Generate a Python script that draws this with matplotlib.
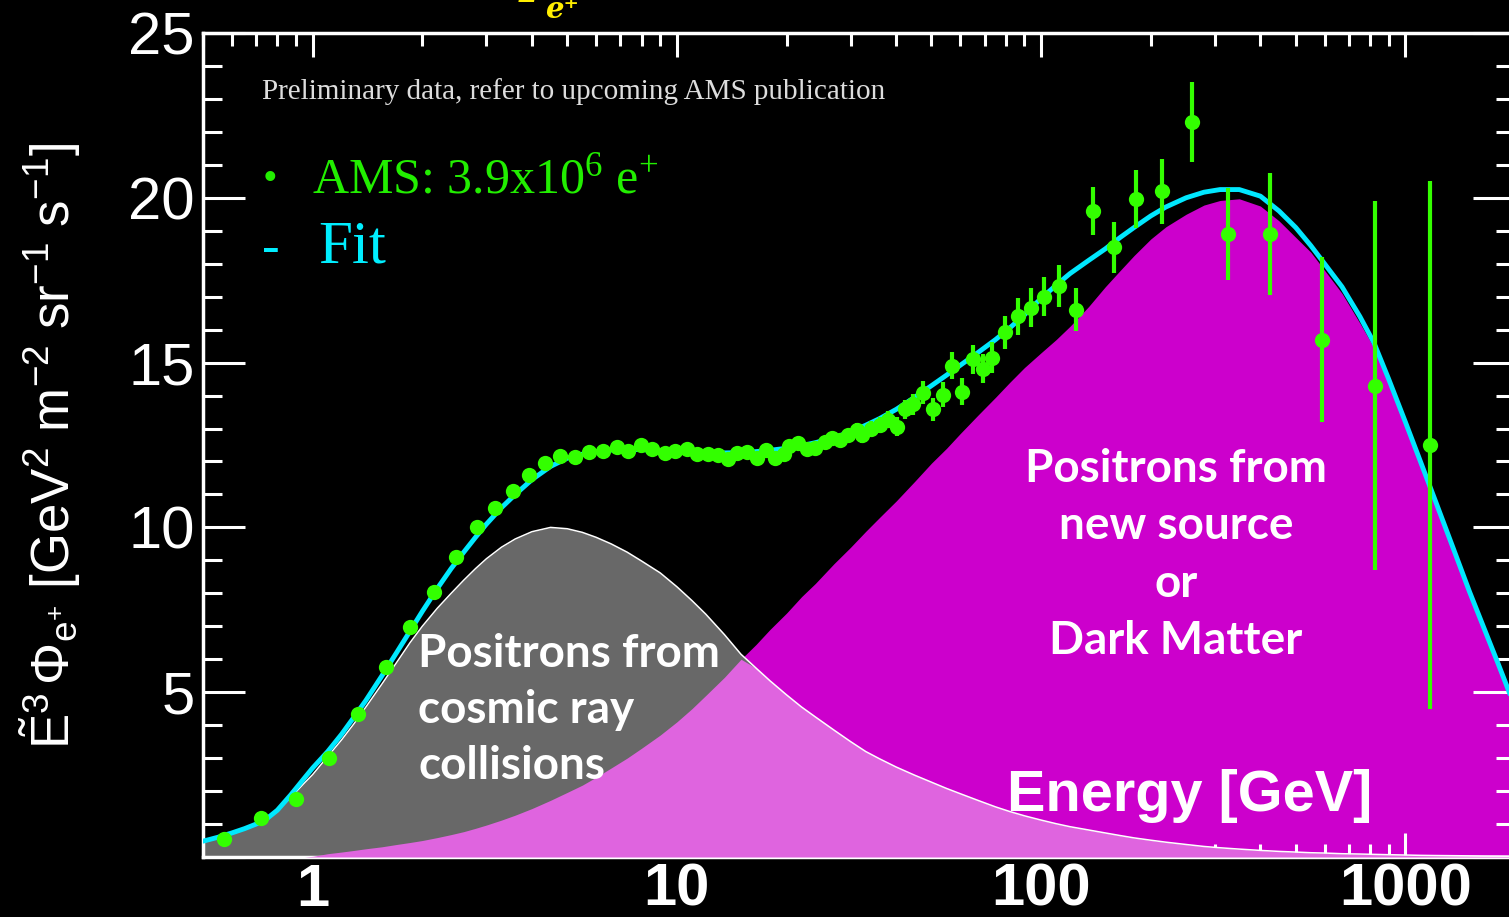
import numpy as np
import matplotlib
matplotlib.use("Agg")
import matplotlib.pyplot as plt
from matplotlib.ticker import FixedLocator, LogLocator, NullFormatter

plt.rcParams['font.family'] = ['Liberation Sans', 'DejaVu Sans']
plt.rcParams['mathtext.fontset'] = 'custom'
plt.rcParams['mathtext.rm'] = 'Liberation Sans'
plt.rcParams['mathtext.it'] = 'Liberation Sans:italic'
plt.rcParams['mathtext.default'] = 'regular'

# model curves (energy in GeV)
energy = [0.5, 0.55, 0.6, 0.65, 0.7, 0.75, 0.8, 0.87, 0.95, 1.0, 1.1, 1.2, 1.3, 1.4,
          1.55, 1.7, 1.85, 2.0, 2.2, 2.4, 2.6, 2.8, 3.0, 3.3, 3.6, 4.0, 4.5, 5.0,
          5.5, 6.0, 6.6, 7.3, 8.0, 9.0, 10, 11, 12, 13.5, 15, 16.5, 18, 20,
          22, 24, 27, 30, 33, 36, 40, 45, 50, 55, 60, 67, 75, 82,
          90, 100, 110, 120, 135, 150, 165, 180, 200, 220, 250, 280, 310, 350,
          400, 450, 500, 550, 600, 670, 750, 820, 900, 1000, 1100, 1200, 1350, 1500,
          1650, 1800, 2000]
collision = [0.45, 0.57, 0.7, 0.83, 0.97, 1.14, 1.4, 1.8, 2.25, 2.5, 3.05, 3.55, 4.05, 4.55,
             5.25, 5.9, 6.5, 7.0, 7.55, 8.0, 8.4, 8.75, 9.05, 9.4, 9.65, 9.87, 10.0, 9.96,
             9.85, 9.7, 9.5, 9.25, 8.98, 8.62, 8.2, 7.78, 7.37, 6.75, 6.15, 5.73, 5.35, 4.92,
             4.55, 4.25, 3.85, 3.5, 3.2, 2.98, 2.73, 2.48, 2.27, 2.08, 1.92, 1.72, 1.52, 1.38,
             1.25, 1.12, 1.01, 0.92, 0.82, 0.73, 0.65, 0.58, 0.51, 0.45, 0.38, 0.32, 0.28, 0.24,
             0.2, 0.17, 0.15, 0.13, 0.12, 0.1, 0.09, 0.08, 0.07, 0.06, 0.05, 0.045, 0.04, 0.035,
             0.03, 0.028, 0.025]
source = [0, 0, 0, 0, 0, 0, 0, 0, 0, 0.02, 0.1, 0.15, 0.2, 0.25,
          0.31, 0.38, 0.44, 0.5, 0.59, 0.68, 0.77, 0.87, 0.97, 1.12, 1.27, 1.47, 1.72, 1.96,
          2.18, 2.42, 2.7, 3.0, 3.3, 3.7, 4.1, 4.5, 4.9, 5.45, 6.0, 6.45, 6.9, 7.4,
          7.9, 8.3, 8.9, 9.4, 9.88, 10.3, 10.8, 11.4, 11.95, 12.4, 12.85, 13.4, 13.95, 14.4,
          14.85, 15.3, 15.7, 16.1, 16.7, 17.3, 17.8, 18.25, 18.75, 19.12, 19.5, 19.78, 19.92, 19.97,
          19.75, 19.3, 18.8, 18.35, 17.8, 17.1, 16.2, 15.45, 14.35, 13.07, 11.88, 10.79, 9.3, 7.96,
          6.82, 5.78, 4.48]
fit = [0.48, 0.6, 0.73, 0.86, 1.0, 1.17, 1.42, 1.88, 2.4, 2.7, 3.2, 3.72, 4.25, 4.75,
       5.5, 6.2, 6.85, 7.45, 8.15, 8.75, 9.25, 9.7, 10.1, 10.6, 11.0, 11.45, 11.85, 12.1,
       12.22, 12.3, 12.35, 12.37, 12.36, 12.33, 12.3, 12.28, 12.27, 12.26, 12.27, 12.3, 12.34, 12.4,
       12.48, 12.57, 12.72, 12.9, 13.1, 13.3, 13.58, 13.95, 14.3, 14.62, 14.92, 15.3, 15.7, 16.05,
       16.45, 16.95, 17.35, 17.7, 18.1, 18.45, 18.8, 19.1, 19.45, 19.72, 20.0, 20.17, 20.25, 20.25,
       20.05, 19.6, 19.1, 18.55, 18.0, 17.3, 16.4, 15.6, 14.5, 13.2, 12.0, 10.9, 9.4, 8.05,
       6.9, 5.85, 4.55]

# AMS data points
data_e = [0.57, 0.72, 0.90, 1.11, 1.33, 1.59, 1.85, 2.15, 2.47, 2.82, 3.16, 3.55, 3.93, 4.34,
          4.77, 5.25, 5.73, 6.25, 6.84, 7.35, 7.97, 8.57, 9.27, 9.9, 10.65, 11.35, 12.15, 12.95,
          13.85, 14.65, 15.6, 16.55, 17.6, 18.65, 19.7, 20.3, 21.5, 22.7, 23.9, 25.5, 26.7, 28.0,
          29.5, 31.2, 32.3, 34.2, 36.0, 38.0, 40.2, 42.3, 44.5, 47.3, 50.5, 53.7, 56.9, 60.5,
          64.9, 69.1, 73.5, 79.5, 86.2, 93.8, 101.7, 111.7, 124.6, 138.7, 158.5, 182, 215, 260,
          326, 426, 589, 827, 1172]
data_flux = [0.55, 1.18, 1.77, 3.0, 4.35, 5.75, 6.97, 8.05, 9.1, 10.0, 10.6, 11.1, 11.6, 11.95,
             12.17, 12.15, 12.3, 12.33, 12.45, 12.32, 12.5, 12.39, 12.27, 12.33, 12.39, 12.24, 12.24, 12.21,
             12.09, 12.27, 12.28, 12.1, 12.36, 12.12, 12.24, 12.47, 12.55, 12.39, 12.42, 12.58, 12.7, 12.64,
             12.79, 12.94, 12.79, 13.0, 13.1, 13.27, 13.06, 13.58, 13.73, 14.09, 13.58, 14.03, 14.9, 14.12,
             15.1, 14.82, 15.15, 15.92, 16.4, 16.67, 17.0, 17.33, 16.6, 19.6, 18.5, 19.95, 20.2, 22.3,
             18.9, 18.9, 15.7, 14.3, 12.5]
data_err = [0.03, 0.03, 0.03, 0.03, 0.03, 0.03, 0.03, 0.03, 0.03, 0.03, 0.03, 0.03, 0.03, 0.03,
            0.04, 0.04, 0.04, 0.04, 0.05, 0.05, 0.05, 0.05, 0.06, 0.06, 0.06, 0.07, 0.07, 0.07,
            0.08, 0.08, 0.09, 0.1, 0.1, 0.11, 0.12, 0.13, 0.14, 0.15, 0.16, 0.17, 0.18, 0.19,
            0.2, 0.22, 0.22, 0.24, 0.25, 0.26, 0.28, 0.3, 0.31, 0.34, 0.36, 0.38, 0.41, 0.42,
            0.44, 0.45, 0.47, 0.5, 0.55, 0.58, 0.6, 0.63, 0.65, 0.73, 0.77, 0.88, 0.98, 1.2,
            1.4, 1.85, 2.5, 5.6, 8.0]

x_ticks = [1, 10, 100, 1000]
x_labels = ['1', '10', '100', '1000']
y_ticks = [0, 5, 10, 15, 20, 25]
y_labels = ['', '5', '10', '15', '20', '25']

W, H = 1509, 917
fig = plt.figure(figsize=(W / 100, H / 100), dpi=100, facecolor='black')
ax = fig.add_axes([203 / W, 60 / H, 1312 / W, 824 / H], facecolor='black')

e = np.array(energy)
coll = np.array(collision)
src = np.array(source)

ax.fill_between(e, 0, src, color='#cc00cc', lw=0, zorder=1)
ax.fill_between(e, 0, coll, color='#686868', lw=0, zorder=2)
ax.fill_between(e, 0, np.minimum(coll, src), color='#df64df', lw=0, zorder=3)
ax.plot(e, coll, color='white', lw=1.1, zorder=4)
ax.plot(e, fit, color='#00e8ff', lw=3.5, zorder=5, solid_capstyle='round')
ax.errorbar(data_e, data_flux, yerr=data_err, fmt='o', color='#33ff00', ms=11,
            mew=0, elinewidth=3, capsize=0, zorder=6)

ax.set_xscale('log')
ax.set_xlim(0.5, 2000)
ax.set_ylim(0, 25)

ax.xaxis.set_major_locator(FixedLocator(x_ticks))
ax.set_xticklabels(x_labels)
ax.xaxis.set_minor_locator(LogLocator(base=10, subs=np.arange(2, 10)))
ax.xaxis.set_minor_formatter(NullFormatter())
ax.yaxis.set_major_locator(FixedLocator(y_ticks))
ax.set_yticklabels(y_labels)
ax.yaxis.set_minor_locator(FixedLocator(np.arange(0, 26, 1)))

ax.tick_params(which='both', direction='in', top=True, right=True, colors='white', width=2.2)
ax.tick_params(axis='x', which='major', length=17, pad=4, labelsize=43)
ax.tick_params(axis='x', which='minor', length=9.5)
ax.tick_params(axis='y', which='major', length=30, pad=6, labelsize=43)
ax.tick_params(axis='y', which='minor', length=14)
for lab in ax.get_xticklabels():
    lab.set_fontweight('bold')
for sp in ax.spines.values():
    sp.set_color('white')
    sp.set_linewidth(2.5)

fig.text(50 / W, 1 - 446 / H,
         r'$\tilde{E}^{3}\,\Phi_{e^{+}}$ [GeV$^{2}$ m$^{-2}$ sr$^{-1}$ s$^{-1}$]',
         rotation=90, ha='center', va='center', color='white', fontsize=38)

# cut-off yellow title at the top
fig.text(510 / W, 1 - 2 / H, 'Φ', color='#ffee00', fontsize=30, fontweight='bold',
         style='italic', family=['DejaVu Serif'], ha='left', va='baseline')
fig.text(545 / W, 1 - 18 / H, 'e⁺', color='#ffee00', fontsize=21, fontweight='bold',
         style='italic', family=['DejaVu Serif'], ha='left', va='baseline')

serif = ['Liberation Serif', 'DejaVu Serif']
fig.text(262 / W, 1 - 92 / H, 'Preliminary data, refer to upcoming AMS publication',
         color='#dddddd', fontsize=21, family=serif, ha='left', va='center')
fig.text(270 / W, 1 - 180 / H, '•', color='#22ee00', fontsize=30, family=serif,
         ha='center', va='center')
fig.text(312 / W, 1 - 180 / H, 'AMS: 3.9x10$^{6}$ e$^{+}$', color='#22ee00', fontsize=36,
         family=serif, ha='left', va='center', math_fontfamily='dejavuserif')
fig.text(271 / W, 1 - 250 / H, '-', color='#00eeff', fontsize=38, family=serif,
         ha='center', va='center')
fig.text(318 / W, 1 - 248 / H, 'Fit', color='#00eeff', fontsize=44, family=serif,
         ha='left', va='center')

calibri = ['Lato', 'DejaVu Sans']
fig.text(418 / W, 1 - 710 / H, 'Positrons from\ncosmic ray\ncollisions', color='white',
         fontsize=33, fontweight='bold', family=calibri, ha='left', va='center',
         linespacing=1.42)
fig.text(1176 / W, 1 - 555 / H, 'Positrons from\nnew source\nor\nDark Matter', color='white',
         fontsize=33, fontweight='bold', family=calibri, ha='center', va='center',
         linespacing=1.45)
fig.text(1190 / W, 1 - 796 / H, 'Energy [GeV]', color='white', fontsize=41.5,
         fontweight='bold', ha='center', va='center')

fig.savefig('out.png', dpi=100, facecolor='black')
